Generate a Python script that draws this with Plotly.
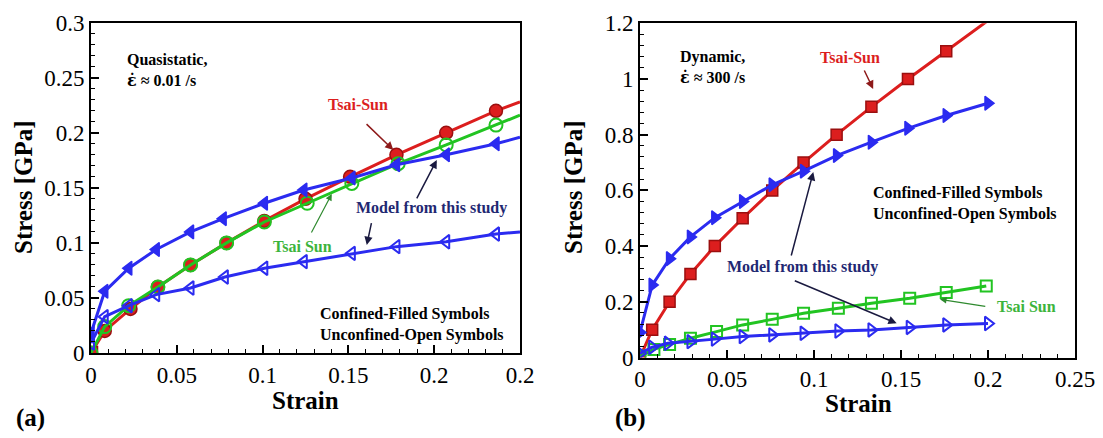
import plotly.graph_objects as go

# ---------------- Data: panel (a) quasistatic ----------------
a_red_x = [0, 0.008, 0.023, 0.039, 0.058, 0.079, 0.101, 0.125, 0.151, 0.178, 0.207, 0.236, 0.25]
a_red_y = [0, 0.02, 0.04, 0.06, 0.08, 0.10, 0.12, 0.14, 0.16, 0.18, 0.20, 0.22, 0.228]
a_green_x = [0, 0.008, 0.022, 0.039, 0.058, 0.079, 0.101, 0.126, 0.152, 0.179, 0.207, 0.236, 0.25]
a_green_y = [0, 0.024, 0.043, 0.060, 0.080, 0.100, 0.119, 0.136, 0.154, 0.172, 0.189, 0.207, 0.216]
a_bconf_x = [0, 0.008, 0.022, 0.038, 0.058, 0.077, 0.101, 0.124, 0.152, 0.178, 0.207, 0.236, 0.25]
a_bconf_y = [0.018, 0.056, 0.077, 0.094, 0.110, 0.122, 0.136, 0.148, 0.159, 0.171, 0.180, 0.190, 0.196]
a_bunc_x = [0, 0.008, 0.022, 0.038, 0.058, 0.078, 0.101, 0.124, 0.152, 0.178, 0.207, 0.236, 0.25]
a_bunc_y = [0.009, 0.033, 0.043, 0.053, 0.059, 0.069, 0.077, 0.083, 0.0905, 0.0966, 0.101, 0.108, 0.110]

# ---------------- Data: panel (b) dynamic ----------------
b_red_x = [0, 0.007, 0.017, 0.029, 0.043, 0.059, 0.076, 0.094, 0.113, 0.133, 0.154, 0.176, 0.2]
b_red_y = [0, 0.1, 0.2, 0.3, 0.4, 0.5, 0.6, 0.7, 0.8, 0.9, 1.0, 1.1, 1.21]
b_bconf_x = [0, 0.007, 0.017, 0.029, 0.043, 0.059, 0.076, 0.094, 0.113, 0.133, 0.154, 0.176, 0.200]
b_bconf_y = [0.09, 0.26, 0.355, 0.433, 0.502, 0.560, 0.620, 0.669, 0.725, 0.773, 0.823, 0.869, 0.913]
b_green_x = [0, 0.008, 0.017, 0.029, 0.044, 0.059, 0.076, 0.094, 0.114, 0.133, 0.155, 0.176, 0.199]
b_green_y = [0.005, 0.029, 0.047, 0.069, 0.093, 0.117, 0.137, 0.159, 0.177, 0.195, 0.2125, 0.233, 0.257]
b_bunc_x = [0, 0.007, 0.016, 0.029, 0.043, 0.059, 0.076, 0.094, 0.114, 0.133, 0.155, 0.176, 0.200]
b_bunc_y = [0.015, 0.037, 0.051, 0.057, 0.066, 0.075, 0.081, 0.087, 0.095, 0.099, 0.108, 0.117, 0.122]

a_xticks = [0, 0.05, 0.1, 0.15, 0.2, 0.25]
a_xticktext = ["0", "0.05", "0.1", "0.15", "0.2", "0.2"]
a_yticks = [0, 0.05, 0.1, 0.15, 0.2, 0.25, 0.3]
a_yticktext = ["0", "0.05", "0.1", "0.15", "0.2", "0.25", "0.3"]
b_xticks = [0, 0.05, 0.1, 0.15, 0.2, 0.25]
b_xticktext = ["0", "0.05", "0.1", "0.15", "0.2", "0.25"]
b_yticks = [0, 0.2, 0.4, 0.6, 0.8, 1.0, 1.2]
b_yticktext = ["0", "0.2", "0.4", "0.6", "0.8", "1", "1.2"]

RED = "#dc1e1e"
RED_EDGE = "#9a0f0f"
GREEN = "#22c422"
BLUE = "#2b2bf0"
NAVY = "#1f2872"
SERIF = "Liberation Serif"
EPS = '<span style="font-family:DejaVu Serif">ε̇</span>'

# the page body has an 8px margin, so the figure is shrunk and positions offset by it
OFF = 8
W, H = 1103 - OFF, 438 - OFF


def px(X):
    return (X - OFF) / W


def py(Y):
    return 1 - (Y - OFF) / H


fig = go.Figure()


def sizes(n, s, last_hidden):
    out = [s] * n
    if last_hidden:
        out[-1] = 0
    return out


def add(x, y, xa, ya, color, symbol, size, filled, edge, last_hidden):
    n = len(x)
    fig.add_trace(go.Scatter(
        x=x, y=y, xaxis=xa, yaxis=ya, mode="lines+markers",
        line=dict(color=color, width=3),
        marker=dict(
            symbol=symbol if isinstance(symbol, list) else [symbol] * n,
            size=sizes(n, size, last_hidden),
            color=color,
            opacity=1,
            line=dict(color=edge, width=1.5 if filled else 2),
        ),
        showlegend=False, cliponaxis=True,
    ))


# panel (a)
add(a_red_x, a_red_y, "x", "y", RED, ["square"] + ["circle"] * (len(a_red_x) - 1), 13, True, RED_EDGE, True)
add(a_green_x, a_green_y, "x", "y", GREEN, "circle-open", 13, False, GREEN, True)
add(a_bconf_x, a_bconf_y, "x", "y", BLUE, "triangle-left", 12, True, BLUE, True)
add(a_bunc_x, a_bunc_y, "x", "y", BLUE, "triangle-left-open", 12, False, BLUE, True)

# panel (b)
add(b_red_x, b_red_y, "x2", "y2", RED, "square", 11, True, RED_EDGE, True)
add(b_bconf_x, b_bconf_y, "x2", "y2", BLUE, "triangle-right", 12, True, BLUE, False)
add(b_green_x, b_green_y, "x2", "y2", GREEN, "square-open", 11, False, GREEN, False)
add(b_bunc_x, b_bunc_y, "x2", "y2", BLUE, "triangle-right-open", 12, False, BLUE, False)

tickfont = dict(family=SERIF, size=23, color="black")


def axis(domain, rng, tickvals, ticktext, minor_dtick, anchor):
    return dict(
        domain=domain, range=rng, anchor=anchor, autorange=False, automargin=False,
        tickmode="array", tickvals=tickvals, ticktext=ticktext,
        ticks="inside", ticklen=8, tickwidth=1.5, tickcolor="black",
        minor=dict(ticks="inside", ticklen=4, tickwidth=1, tickcolor="black", dtick=minor_dtick),
        showline=True, linecolor="black", linewidth=2, mirror=True,
        showgrid=False, zeroline=False, tickfont=tickfont, fixedrange=True,
    )


fig.update_layout(
    width=W, height=H,
    margin=dict(l=0, r=0, t=0, b=0, autoexpand=False),
    paper_bgcolor="white", plot_bgcolor="white",
    font=dict(family=SERIF),
    xaxis=axis([px(91), px(520)], [0, 0.25], a_xticks, a_xticktext, 0.01, "y"),
    yaxis=axis([py(353), py(22.7)], [0, 0.3], a_yticks, a_yticktext, 0.01, "x"),
    xaxis2=axis([px(640), px(1075)], [0, 0.25], b_xticks, b_xticktext, 0.01, "y2"),
    yaxis2=axis([py(357.5), py(23.3)], [0, 1.2], b_yticks, b_yticktext, 0.04, "x2"),
)

ann = []


def text(x, y, s, color="black", size=16, xref="x", yref="y", xanchor="center", align="center", angle=0):
    ann.append(dict(x=x, y=y, xref=xref, yref=yref, text=s, showarrow=False,
                    font=dict(family=SERIF, size=size, color=color),
                    xanchor=xanchor, yanchor="middle", align=align, textangle=angle))


def arrow(tx, ty, hx, hy, color, xref="x", yref="y", width=1.5):
    ann.append(dict(x=hx, y=hy, ax=tx, ay=ty, xref=xref, yref=yref, axref=xref, ayref=yref,
                    text="", showarrow=True, arrowhead=2, arrowsize=1.1, arrowwidth=width,
                    arrowcolor=color))


# panel (a) annotations
text(0.0198, 0.257, "<b>Quasistatic,</b><br><b>" + EPS + " ≈ 0.01 /s</b>", xanchor="left", align="left")
text(0.1558, 0.2253, "<b>Tsai-Sun</b>", color=RED)
arrow(0.1597, 0.2092, 0.1762, 0.1844, "#8e1a1a")
text(0.123, 0.0963, "<b>Tsai Sun</b>", color="#3cb43c")
arrow(0.128, 0.108, 0.1403, 0.1445, "#2f8a2f", width=1.2)
text(0.1985, 0.1314, "<b>Model from this study</b>", color=NAVY)
arrow(0.1894, 0.139, 0.2015, 0.1753, "#1a1a40")
arrow(0.1636, 0.1193, 0.1607, 0.0981, "#1a1a40")
text(0.1323, 0.0263, "<b>Confined-Filled Symbols</b><br><b>Unconfined-Open Symbols</b>", xanchor="left", align="left")

# panel (b) annotations
text(0.0218, 1.041, "<b>Dynamic,</b><br><b>" + EPS + " ≈ 300 /s</b>", xref="x2", yref="y2", xanchor="left", align="left")
text(0.1205, 1.079, "<b>Tsai-Sun</b>", color=RED, xref="x2", yref="y2")
arrow(0.1285, 1.036, 0.134, 0.9645, "#8e1a1a", xref="x2", yref="y2")
text(0.1325, 0.552, "<b>Confined-Filled Symbols</b><br><b>Unconfined-Open Symbols</b>", xref="x2", yref="y2", xanchor="left", align="left")
text(0.0936, 0.3253, "<b>Model from this study</b>", color=NAVY, xref="x2", yref="y2")
arrow(0.0867, 0.361, 0.0996, 0.6657, "#1a1a40", xref="x2", yref="y2")
arrow(0.0881, 0.278, 0.1475, 0.1228, "#1a1a40", xref="x2", yref="y2")
text(0.2222, 0.1824, "<b>Tsai Sun</b>", color="#3cb43c", xref="x2", yref="y2")
arrow(0.1993, 0.1824, 0.1724, 0.209, "#2f8a2f", xref="x2", yref="y2", width=1.2)

# axis titles and panel labels (page pixel positions)
text(px(305), py(400), "<b>Strain</b>", size=25, xref="paper", yref="paper")
text(px(858), py(403), "<b>Strain</b>", size=25, xref="paper", yref="paper")
text(px(23), py(187), "<b>Stress [GPa]</b>", size=25, xref="paper", yref="paper", angle=-90)
text(px(573), py(187), "<b>Stress [GPa]</b>", size=25, xref="paper", yref="paper", angle=-90)
text(px(30), py(418), "<b>(a)</b>", size=25, xref="paper", yref="paper")
text(px(630), py(418), "<b>(b)</b>", size=25, xref="paper", yref="paper")

fig.update_layout(annotations=ann)
fig.write_html("out.html")
